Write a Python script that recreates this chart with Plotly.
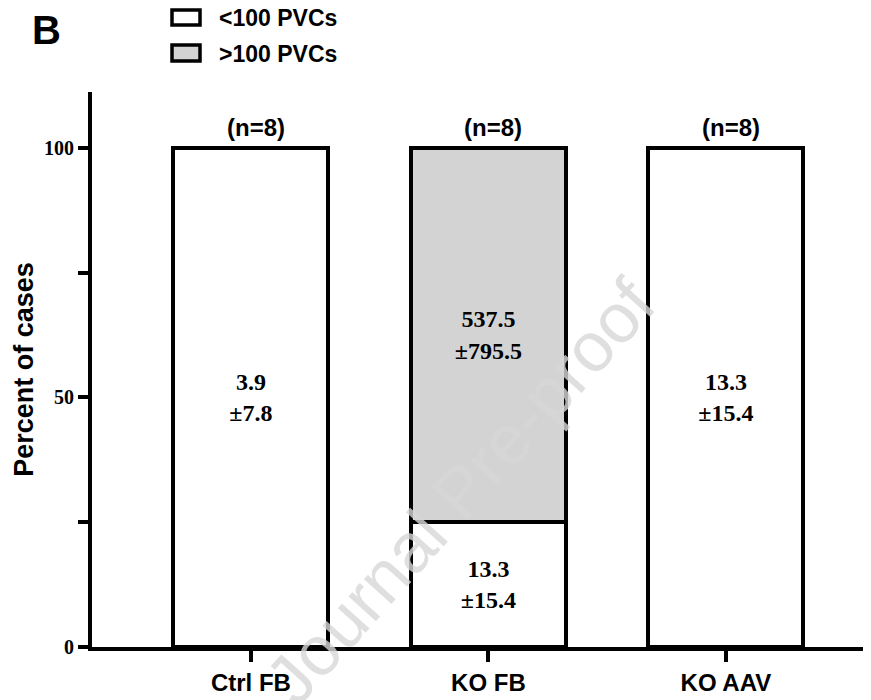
import plotly.graph_objects as go

# ---- data ----
categories = ["Ctrl FB", "KO FB", "KO AAV"]
pct_under100 = [100, 25, 100]
pct_over100 = [0, 75, 0]
label_under100 = ["3.9<br>±7.8", "13.3<br>±15.4", "13.3<br>±15.4"]
label_over100 = ["", "537.5<br>±795.5", ""]
n_labels = ["(n=8)", "(n=8)", "(n=8)"]
series_names = ["<100 PVCs", ">100 PVCs"]
y_tickvals = [0, 25, 50, 75, 100]
y_ticktext = ["0", "", "50", "", "100"]

# ---- style ----
colors = ["#ffffff", "#d3d3d3"]
SANS = "Liberation Sans, Arial, sans-serif"
SERIF = "Liberation Serif, Times New Roman, serif"
LW = 4
OFF = 8  # page body margin of the html page

fig = go.Figure()
for vals, texts, name, col in [
    (pct_under100, label_under100, series_names[0], colors[0]),
    (pct_over100, label_over100, series_names[1], colors[1]),
]:
    fig.add_trace(go.Bar(
        x=categories,
        y=[v if v else None for v in vals],
        text=texts,
        name=name,
        marker=dict(color=col, line=dict(color="black", width=LW)),
        textposition="inside",
        insidetextanchor="middle",
        textangle=0,
        textfont=dict(family=SERIF, size=24, color="black", weight="bold"),
        showlegend=False,
        hoverinfo="skip",
    ))

totals = [a + b for a, b in zip(pct_under100, pct_over100)]
for c, t, lab in zip(categories, totals, n_labels):
    fig.add_annotation(x=c, y=t, text=lab, showarrow=False, yanchor="bottom",
                       yshift=5, xshift=5,
                       font=dict(family=SANS, size=24, color="black", weight="bold"))

# custom legend (paper coords computed from page pixels)
W, H, L, B = 779, 555, 92, 647
def px(x): return (x - L) / W
def py(y): return (B - y) / H
legend_rows = [(10, 25, 18), (45, 61, 53.5)]
for (y0, y1, yc), name, col in zip(legend_rows, series_names, colors):
    fig.add_shape(type="rect", xref="paper", yref="paper",
                  x0=px(172), x1=px(200), y0=py(y1), y1=py(y0),
                  fillcolor=col, line=dict(color="black", width=3.5))
    fig.add_annotation(xref="paper", yref="paper", x=px(217), y=py(yc),
                       xanchor="left", yanchor="middle", text=name, showarrow=False,
                       font=dict(family=SANS, size=23, color="black", weight="bold"))

fig.add_annotation(xref="paper", yref="paper", x=px(46), y=py(30), text="B",
                   xanchor="center", yanchor="middle",
                   showarrow=False, font=dict(family=SANS, size=40, color="black", weight="bold"))

# watermark
fig.add_annotation(xref="paper", yref="paper", x=px(460), y=py(492),
                   xanchor="center", yanchor="middle",
                   text="Journal Pre-proof", showarrow=False, textangle=-48,
                   font=dict(family=SANS, size=70, color="rgba(215,215,215,0.8)"))

fig.update_layout(
    width=871 - OFF, height=700 - OFF,
    margin=dict(l=L - OFF, r=0, t=92 - OFF, b=53),
    barmode="stack",
    bargap=0.347,
    plot_bgcolor="white",
    paper_bgcolor="white",
    showlegend=False,
)
fig.update_xaxes(
    range=[-0.669, 2.611],
    showline=True, linecolor="black", linewidth=LW,
    ticks="outside", ticklen=11, tickwidth=3.5, tickcolor="black",
    tickfont=dict(family=SANS, size=24, color="black", weight="bold"),
    showgrid=False, zeroline=False,
)
fig.update_yaxes(
    range=[0, 111.2],
    tickvals=y_tickvals, ticktext=y_ticktext,
    showline=True, linecolor="black", linewidth=LW,
    ticks="outside", ticklen=10, tickwidth=3.5, tickcolor="black",
    tickfont=dict(family=SERIF, size=20, color="black", weight="bold"),
    title=dict(text="Percent of cases", standoff=4,
               font=dict(family=SANS, size=27, color="black", weight="bold")),
    showgrid=False, zeroline=False,
)

fig.write_html("out.html")
